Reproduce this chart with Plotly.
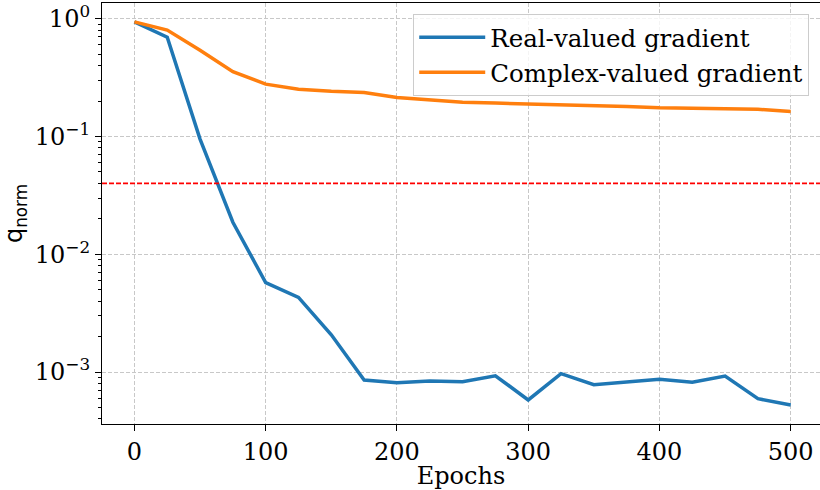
import plotly.graph_objects as go

epochs = [0, 25, 50, 75, 100, 125, 150, 175, 200, 225, 250, 275, 300, 325, 350, 375, 400, 425, 450, 475, 500]
real_grad = [0.94, 0.695, 0.095, 0.0187, 0.00575, 0.0043, 0.00207, 0.000855, 0.000813, 0.00084, 0.000828, 0.00093,
             0.00058, 0.00097, 0.00078, 0.00082, 0.000867, 0.00082, 0.000925, 0.000594, 0.000525]
complex_grad = [0.94, 0.80, 0.54, 0.355, 0.278, 0.252, 0.242, 0.236, 0.214, 0.204, 0.195, 0.192,
                0.189, 0.189, 0.185, 0.180, 0.175, 0.174, 0.172, 0.170, 0.163]
threshold = 0.04
series_names = ["Real-valued gradient", "Complex-valued gradient"]
x_ticks = [0, 100, 200, 300, 400, 500]
y_tickvals = [1, 0.1, 0.01, 0.001]
y_ticktext = ["10<sup>0</sup>", "10<sup>\u22121</sup>", "10<sup>\u22122</sup>", "10<sup>\u22123</sup>"]
y_minor_ticks = [m * 10.0 ** e for e in range(-4, 1) for m in range(2, 10)]

SERIF = "DejaVu Serif"
fig = go.Figure()
fig.add_trace(go.Scatter(x=epochs, y=real_grad, mode="lines", name=series_names[0],
                         line=dict(color="#1f77b4", width=3.5)))
fig.add_trace(go.Scatter(x=epochs, y=complex_grad, mode="lines", name=series_names[1],
                         line=dict(color="#ff7f0e", width=3.5)))
fig.add_hline(y=threshold, line=dict(color="red", width=1.6, dash="5px,2px"))

grid = dict(showgrid=True, gridcolor="#c8c8c8", gridwidth=1, griddash="4px,2px")
fig.update_xaxes(range=[-24.7, 522.3], tickvals=x_ticks, ticks="outside", ticklen=6, tickwidth=1,
                 tickcolor="black", showline=True, linecolor="black", linewidth=1.2, mirror=True,
                 zeroline=False, automargin=True, tickfont=dict(family=SERIF, size=24, color="black"),
                 title=dict(text="Epochs", font=dict(family=SERIF, size=24, color="black"), standoff=0),
                 **grid)
fig.update_yaxes(type="log", range=[-3.441, 0.133], tickmode="array", tickvals=y_tickvals,
                 ticktext=y_ticktext, ticks="outside", ticklen=6, tickwidth=1, tickcolor="black",
                 showline=True, linecolor="black", linewidth=1.2, mirror=False, zeroline=False,
                 automargin=False, tickfont=dict(family=SERIF, size=24, color="black"),
                 minor=dict(ticks="outside", ticklen=3, tickwidth=1, tickcolor="black", tickmode="array",
                            tickvals=y_minor_ticks, showgrid=False),
                 title=dict(text="q<sub>norm</sub>", font=dict(family="DejaVu Sans", size=24, color="black"),
                            standoff=6),
                 **grid)

fig.update_layout(
    width=820, height=490,
    margin=dict(l=102, r=0, t=3, b=66, autoexpand=False),
    plot_bgcolor="white", paper_bgcolor="white",
    showlegend=True,
    legend=dict(x=0.985, y=0.974, xanchor="right", yanchor="top", itemwidth=66,
                bgcolor="rgba(255,255,255,0.8)", bordercolor="#cccccc", borderwidth=1,
                font=dict(family=SERIF, size=24.5, color="black")),
)
fig.write_html("out.html", config={"displayModeBar": False},
               post_script="document.body.style.margin='0';document.body.style.overflow='hidden';")
